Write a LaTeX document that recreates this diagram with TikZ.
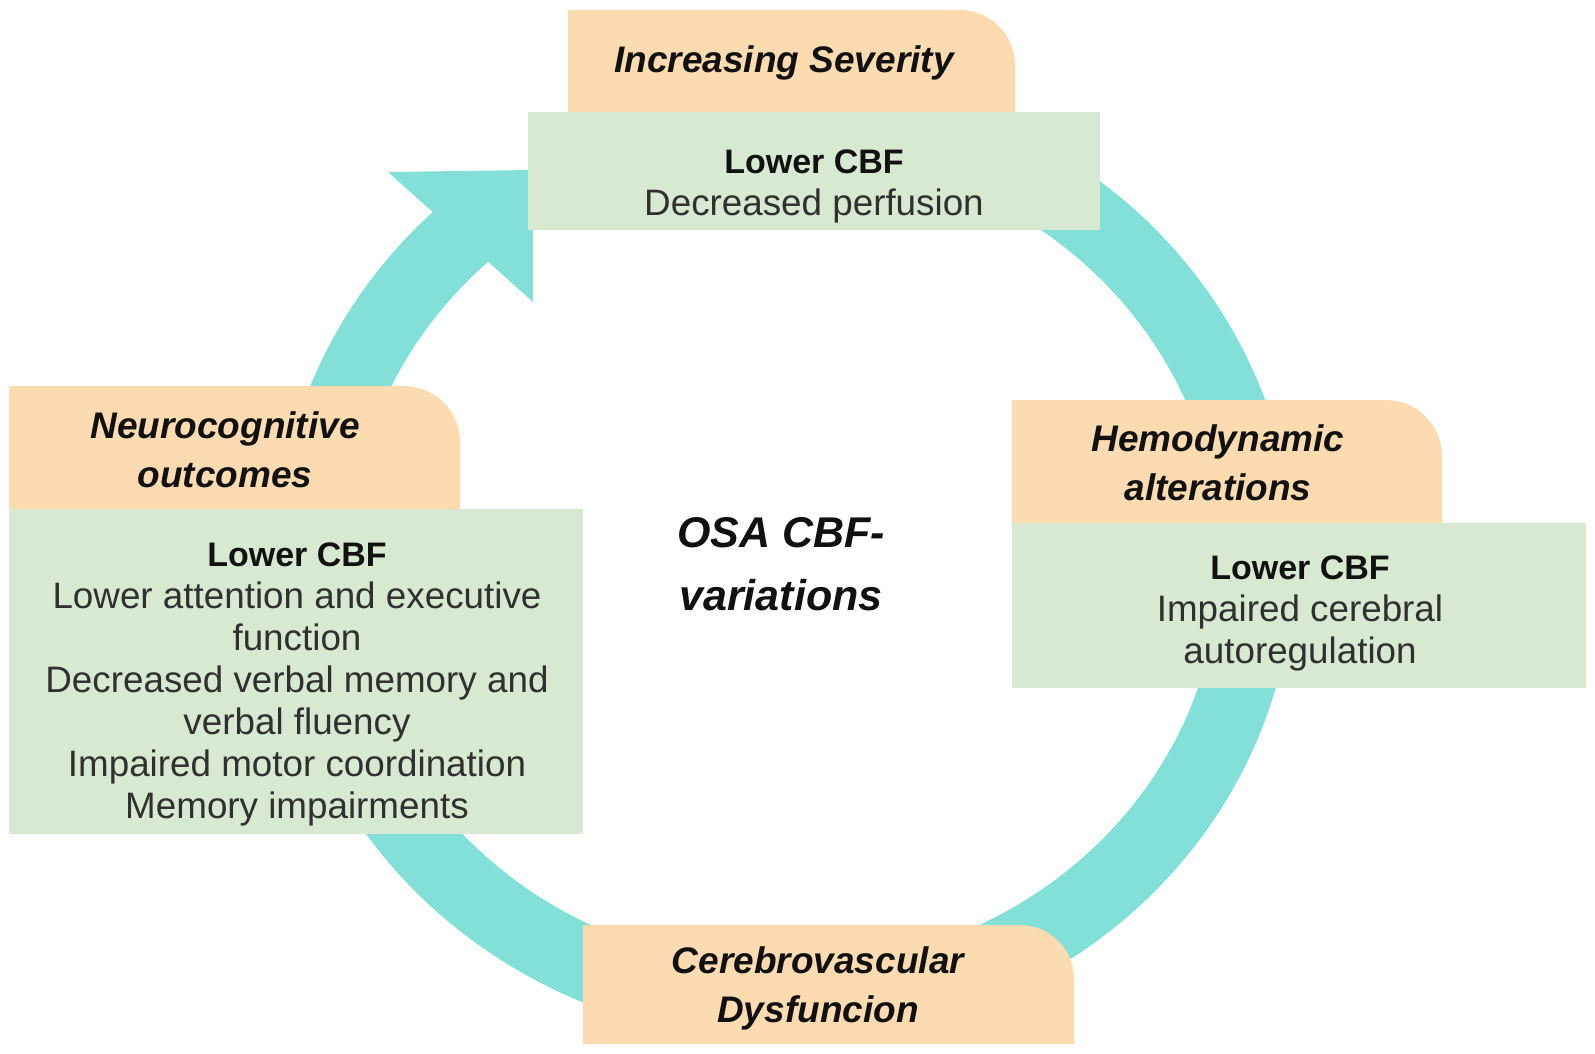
\documentclass[tikz,border=0pt]{standalone}
\usepackage{fontspec}
\setmainfont{Liberation Sans}
\usetikzlibrary{calc}
\definecolor{tabc}{HTML}{FDDBB1}
\definecolor{boxc}{HTML}{D8E9D1}
\definecolor{ringc}{HTML}{82E0D8}
\definecolor{bodyc}{HTML}{303030}
\definecolor{headc}{HTML}{111111}
\tikzset{
  tabshape/.style={fill=tabc},
  greenshape/.style={fill=boxc},
  ringshape/.style={ringc, line width=37pt},
  heading/.style={font=\fontsize{18.5}{24.5}\selectfont\bfseries\itshape, text=headc, align=center, inner sep=0pt, anchor=north},
  bodytext/.style={font=\fontsize{18.4}{21}\selectfont, text=bodyc, align=center, inner sep=0pt, anchor=north},
  centertext/.style={font=\fontsize{21.5}{31.5}\selectfont\bfseries\itshape, text=headc, align=center, inner sep=0pt, anchor=north},
}
\newcommand{\lcbf}{{\fontsize{17}{21}\selectfont\bfseries\color{headc}Lower CBF}}
\begin{document}
\begin{tikzpicture}[x=0.5pt,y=0.5pt]
\useasboundingbox (0,0) rectangle (1595,-1054);
% ring with arrow
\coordinate (c) at (785,-560);
\draw[ringshape] ($(c)+(115:472 and 445)$) arc[start angle=115, end angle=-228, x radius=472, y radius=445];
\coordinate (hb1) at (388,-172);
\coordinate (htip) at (533,-170);
\coordinate (hb2) at (533,-302);
\fill[ringc] (hb1) -- (htip) -- (hb2) -- cycle;
% top block
\fill[tabshape] (568,-112) -- (568,-10) [rounded corners=27.5pt] -- (1015,-10) [sharp corners] -- (1015,-112) -- cycle;
\fill[greenshape] (528,-112) rectangle (1100,-230);
% left block
\fill[tabshape] (9,-509) -- (9,-386) [rounded corners=28pt] -- (460,-386) [sharp corners] -- (460,-509) -- cycle;
\fill[greenshape] (9,-509) rectangle (583,-834);
% right block
\fill[tabshape] (1012,-523) -- (1012,-400) [rounded corners=28pt] -- (1442,-400) [sharp corners] -- (1442,-523) -- cycle;
\fill[greenshape] (1012,-523) rectangle (1586,-688);
% bottom block
\fill[tabshape] (583,-1044) -- (583,-925) [rounded corners=27pt] -- (1074,-925) [sharp corners] -- (1074,-1044) -- cycle;
% texts
\node[heading] (h1) at (784,-45) {Increasing Severity};
\node[bodytext] (b1) at (814,-149) {\lcbf\\Decreased perfusion};
\node[heading] (h2) at (1218,-424) {Hemodynamic\\alterations};
\node[bodytext] (b2) at (1300,-555) {\lcbf\\Impaired cerebral\\autoregulation};
\node[heading] (h3) at (818,-946) {Cerebrovascular\\Dysfuncion};
\node[heading] (h4) at (225,-411) {Neurocognitive\\outcomes};
\node[bodytext] (b4) at (297,-542) {\lcbf\\Lower attention and executive\\function\\Decreased verbal memory and\\verbal fluency\\Impaired motor coordination\\Memory impairments};
\node[centertext] (ctr) at (781,-517) {OSA CBF-\\variations};
\end{tikzpicture}
\end{document}
